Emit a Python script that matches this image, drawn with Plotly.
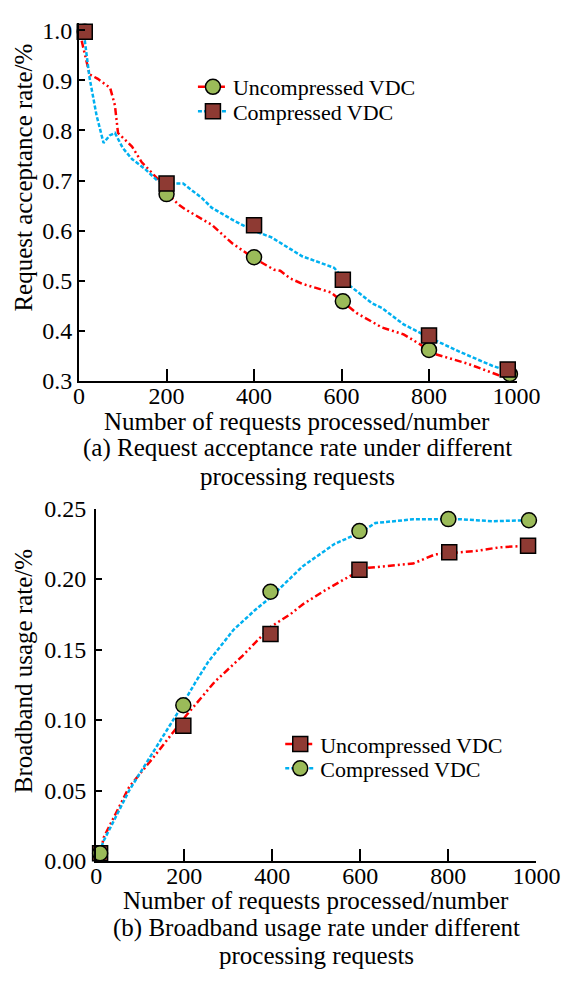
import plotly.graph_objects as go

W, H = 587, 984

# ---------------- data: (a) request acceptance rate ----------------
a_unc_line_x = [6, 24, 43, 71, 82, 89, 121, 143, 179, 200, 229, 244, 303, 350, 396, 446, 460, 482,
                510, 575, 600, 634, 692, 742, 778, 813, 887, 958, 985]
a_unc_line_y = [0.979, 0.912, 0.903, 0.885, 0.85, 0.795, 0.768, 0.737, 0.704, 0.675, 0.651, 0.642,
                0.612, 0.575, 0.547, 0.522, 0.520, 0.505, 0.494, 0.477, 0.460, 0.436, 0.407, 0.393,
                0.374, 0.354, 0.335, 0.312, 0.305]
a_cmp_line_x = [13, 24, 40, 56, 70, 82, 100, 121, 151, 179, 216, 238, 281, 303, 350, 396, 439, 482,
                510, 583, 619, 670, 692, 742, 800, 871, 943, 980]
a_cmp_line_y = [0.98, 0.905, 0.83, 0.775, 0.79, 0.795, 0.765, 0.743, 0.723, 0.70, 0.694, 0.694,
                0.665, 0.646, 0.622, 0.601, 0.587, 0.564, 0.549, 0.526, 0.49, 0.455, 0.446, 0.413,
                0.387, 0.358, 0.331, 0.32]
a_unc_mark_x = [13, 200, 400, 603, 800, 985]
a_unc_mark_y = [0.997, 0.673, 0.547, 0.459, 0.362, 0.314]
a_cmp_mark_x = [13, 200, 400, 603, 800, 980]
a_cmp_mark_y = [0.997, 0.694, 0.611, 0.502, 0.391, 0.323]

# ---------------- data: (b) broadband usage rate ----------------
b_cmp_line_x = [10, 15, 75, 133, 183, 226, 254, 312, 361, 396, 441, 469, 542, 600, 634, 720, 828, 899, 983]
b_cmp_line_y = [0.006, 0.013, 0.05, 0.079, 0.104, 0.127, 0.141, 0.164, 0.178, 0.187, 0.201, 0.209,
                0.225, 0.233, 0.2397, 0.2424, 0.2424, 0.241, 0.2417]
b_unc_line_x = [10, 17, 75, 133, 204, 269, 333, 396, 441, 469, 520, 576, 619, 720, 770, 864, 914, 980]
b_unc_line_y = [0.006, 0.0166, 0.0525, 0.0746, 0.103, 0.127, 0.1457, 0.166, 0.175, 0.182, 0.192,
                0.202, 0.208, 0.211, 0.2175, 0.220, 0.2224, 0.2237]
b_cmp_mark_x = [9, 198, 396, 598, 800, 983]
b_cmp_mark_y = [0.0055, 0.1105, 0.191, 0.234, 0.2425, 0.2417]
b_unc_mark_x = [9, 198, 396, 598, 802, 981]
b_unc_mark_y = [0.0055, 0.096, 0.161, 0.2065, 0.219, 0.2237]

series_names = ["Uncompressed VDC", "Compressed VDC"]
x_ticks = [0, 200, 400, 600, 800, 1000]
a_y_ticks = [0.3, 0.4, 0.5, 0.6, 0.7, 0.8, 0.9, 1.0]
a_y_ticktext = ["0.3", "0.4", "0.5", "0.6", "0.7", "0.8", "0.9", "1.0"]
b_y_ticks = [0, 0.05, 0.10, 0.15, 0.20, 0.25]
b_y_ticktext = ["0.00", "0.05", "0.10", "0.15", "0.20", "0.25"]

# ---------------- styles ----------------
FONT = "Liberation Serif, Times New Roman, serif"
FS = 25
FS_TICK = 24
FS_LEG = 22
RED = "#FF0000"
BLUE = "#00B0F0"
GREEN = "#9BBB59"
BROWN = "#8E3A33"
RED_DASH = "7px,3px,2px,3px,2px,3px"
BLUE_DASH = "4px,2px"
LW = 2.5
MS = 15


def px_x(p):
    return p / W


def px_y(p):
    return 1 - p / H


fig = go.Figure()

series = [
    # (line x, line y, mark x, mark y, color, dash, symbol, marker color, name, xaxis, yaxis, legend)
    (a_unc_line_x, a_unc_line_y, a_unc_mark_x, a_unc_mark_y, RED, RED_DASH, "circle", GREEN,
     series_names[0], "x", "y", "legend"),
    (a_cmp_line_x, a_cmp_line_y, a_cmp_mark_x, a_cmp_mark_y, BLUE, BLUE_DASH, "square", BROWN,
     series_names[1], "x", "y", "legend2"),
    (b_unc_line_x, b_unc_line_y, b_unc_mark_x, b_unc_mark_y, RED, RED_DASH, "square", BROWN,
     series_names[0], "x2", "y2", "legend3"),
    (b_cmp_line_x, b_cmp_line_y, b_cmp_mark_x, b_cmp_mark_y, BLUE, BLUE_DASH, "circle", GREEN,
     series_names[1], "x2", "y2", "legend4"),
]

# lines first
for xl, yl, xm, ym, color, dash, symbol, mcolor, name, xa, ya, leg in series:
    fig.add_trace(go.Scatter(x=xl, y=yl, mode="lines", xaxis=xa, yaxis=ya,
                             line=dict(color=color, width=LW, dash=dash),
                             showlegend=False, hoverinfo="skip"))
# then markers
for xl, yl, xm, ym, color, dash, symbol, mcolor, name, xa, ya, leg in series:
    fig.add_trace(go.Scatter(x=xm, y=ym, mode="markers", xaxis=xa, yaxis=ya, cliponaxis=False,
                             marker=dict(symbol=symbol, size=MS, color=mcolor,
                                         line=dict(color="black", width=1.5)),
                             showlegend=False))
# legend entries (no data)
for xl, yl, xm, ym, color, dash, symbol, mcolor, name, xa, ya, leg in series:
    fig.add_trace(go.Scatter(x=[None], y=[None], mode="lines+markers", xaxis=xa, yaxis=ya,
                             name=name, legend=leg,
                             line=dict(color=color, width=LW, dash=dash),
                             marker=dict(symbol=symbol, size=MS, color=mcolor,
                                         line=dict(color="black", width=1.5))))

axis_common = dict(showline=True, linecolor="black", linewidth=2, showgrid=False, zeroline=False,
                   ticks="inside", tickcolor="black", tickwidth=2,
                   tickfont=dict(family=FONT, size=FS_TICK, color="black"))

fig.update_layout(
    width=W, height=H, margin=dict(l=0, r=0, t=0, b=0),
    paper_bgcolor="white", plot_bgcolor="white",
    font=dict(family=FONT, size=FS, color="black"),
    xaxis=dict(domain=[px_x(77), px_x(538)], range=[0, 1000], anchor="y",
               tickvals=x_ticks, ticklen=12, ticklabelstandoff=-8, **axis_common),
    yaxis=dict(domain=[px_y(378), px_y(10)], range=[0.3, 1.015], anchor="x",
               tickvals=a_y_ticks, ticktext=a_y_ticktext, ticklen=6, **axis_common),
    xaxis2=dict(domain=[px_x(95), px_x(559)], range=[0, 1000], anchor="y2",
                tickvals=x_ticks, ticklen=12, ticklabelstandoff=-8, **axis_common),
    yaxis2=dict(domain=[px_y(871), px_y(509)], range=[0, 0.25], anchor="x2",
                tickvals=b_y_ticks, ticktext=b_y_ticktext, ticklen=6, ticklabelstandoff=3,
                **axis_common),
)

leg_common = dict(bgcolor="rgba(0,0,0,0)", borderwidth=0, xanchor="left", yanchor="middle",
                  itemwidth=30, font=dict(family=FONT, size=FS_LEG, color="black"), tracegroupgap=0)
fig.update_layout(
    legend=dict(x=px_x(197), y=px_y(76), **leg_common),
    legend2=dict(x=px_x(197), y=px_y(101), **leg_common),
    legend3=dict(x=px_x(289), y=px_y(751), **leg_common),
    legend4=dict(x=px_x(289), y=px_y(776), **leg_common),
)

texts = [
    ("Number of requests processed/number", 307, 420, 0),
    ("(a) Request acceptance rate under different", 307, 447, 0),
    ("processing requests", 307, 476, 0),
    ("Request acceptance rate/%", 18, 169, -90),
    ("Number of requests processed/number", 327, 912, 0),
    ("(b) Broadband usage rate under different", 327, 940, 0),
    ("processing requests", 327, 968, 0),
    ("Broadband usage rate/%", 18, 676, -90),
]
for t, x, y, ang in texts:
    fig.add_annotation(text=t, x=px_x(x), y=px_y(y), xref="paper", yref="paper",
                       xanchor="center", yanchor="middle", showarrow=False, textangle=ang,
                       font=dict(family=FONT, size=FS, color="black"))

fig.write_html("out.html")
